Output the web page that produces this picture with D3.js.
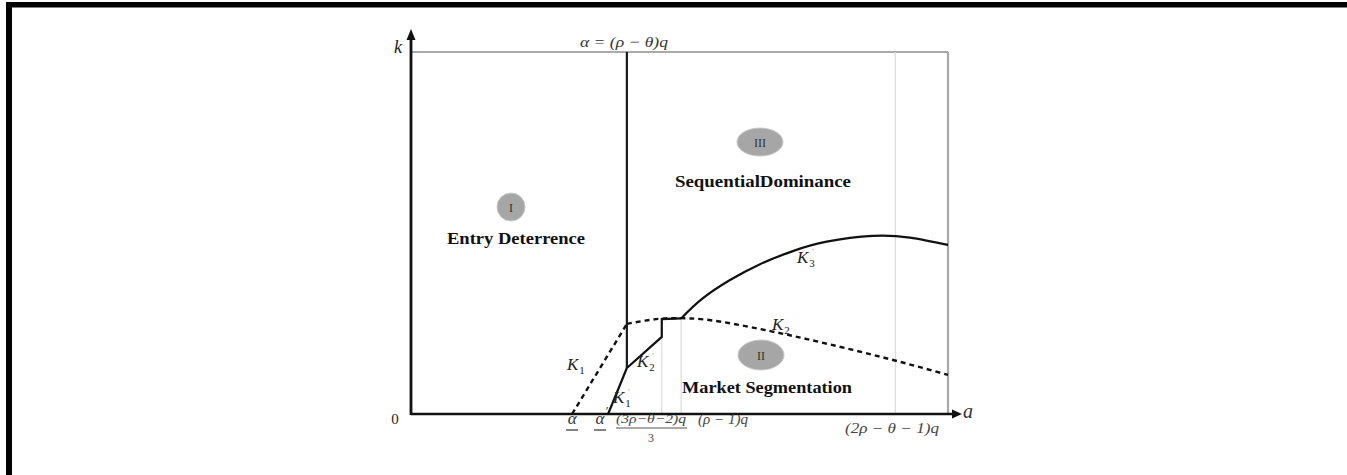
<!DOCTYPE html>
<html>
<head>
<meta charset="utf-8">
<script src="https://cdn.jsdelivr.net/npm/d3@7"></script>
<style>
  html, body { margin: 0; padding: 0; background: #fff; }
  svg { display: block; }
</style>
</head>
<body>
<svg id="chart" width="1347" height="475"></svg>
<script>
// ---- data (abstract units: a along the horizontal axis, k along the vertical) ----
const tickNames = ["alphaLow", "alphaPrime", "rhoTheta", "fracThird", "rhoMinusOne", "twoRho"];
const tickValues = [30, 36.7, 40.2, 46.7, 50.3, 90.2];

// dashed boundaries
const k1Dashed = [[30, 0], [40.2, 24.9]];
const k2Dashed = [[40.2, 24.9], [43.6, 25.8], [47.3, 26.4], [52.0, 26.4], [58.1, 25.4],
                  [66.9, 22.9], [73.7, 20.7], [82.3, 17.7], [91.1, 14.4], [100, 10.8]];
// solid boundaries
const k1Prime = [[36.7, 0], [40.2, 12.7]];
const k2Prime = [[40.2, 12.7], [46.7, 21.3], [46.7, 26.2], [50.3, 26.4]];
const k3Prime = [[50.3, 26.4], [54.2, 31.8], [59.4, 37.0], [65.0, 41.4], [71.1, 45.0],
                 [77.4, 47.6], [86.0, 49.2], [92.9, 48.7], [100, 46.7]];

const regionNumerals = ["I", "II", "III"];
const regionNames = ["Entry Deterrence", "Market Segmentation", "SequentialDominance"];

// ---- scales ----
const svg = d3.select("#chart");
const x = d3.scaleLinear().domain([0, 100]).range([411, 948]);
const y = d3.scaleLinear().domain([0, 100]).range([414, 52]);
const line = d3.line().x(d => x(d[0])).y(d => y(d[1]));
const smooth = d3.line().x(d => x(d[0])).y(d => y(d[1])).curve(d3.curveNatural);

const tick = {};
tickNames.forEach((n, i) => tick[n] = tickValues[i]);

// ---- page frame ----
svg.append("rect").attr("x", 6).attr("y", 2).attr("width", 1341).attr("height", 5.5).attr("fill", "#000");
svg.append("rect").attr("x", 6).attr("y", 2).attr("width", 6).attr("height", 473).attr("fill", "#000");

// ---- guide lines ----
const g = svg.append("g");
// top and right limits
g.append("line").attr("x1", x(0)).attr("x2", x(100)).attr("y1", y(100)).attr("y2", y(100))
  .attr("stroke", "#8c8c8c").attr("stroke-width", 1.6);
g.append("line").attr("x1", x(100)).attr("x2", x(100)).attr("y1", y(100)).attr("y2", y(0))
  .attr("stroke", "#a8a8a8").attr("stroke-width", 2.2);
// faint verticals
[[tick.fracThird, 21.3], [tick.rhoMinusOne, 26.4], [tick.twoRho, 100]].forEach(([tx, top]) => {
  g.append("line").attr("x1", x(tx)).attr("x2", x(tx)).attr("y1", y(top)).attr("y2", y(0))
    .attr("stroke", "#dcdcdc").attr("stroke-width", 1.2);
});
// alpha = (rho - theta) q
g.append("line").attr("x1", x(tick.rhoTheta)).attr("x2", x(tick.rhoTheta))
  .attr("y1", y(100)).attr("y2", y(12.7)).attr("stroke", "#1a1a1a").attr("stroke-width", 2.2);

// ---- boundaries ----
g.append("path").datum(k1Dashed).attr("d", line).attr("fill", "none")
  .attr("stroke", "#111").attr("stroke-width", 2.4).attr("stroke-dasharray", "5,4");
g.append("path").datum(k2Dashed).attr("d", smooth).attr("fill", "none")
  .attr("stroke", "#111").attr("stroke-width", 2.4).attr("stroke-dasharray", "5,4");
g.append("path").datum(k1Prime).attr("d", line).attr("fill", "none")
  .attr("stroke", "#111").attr("stroke-width", 2.2);
g.append("path").datum(k2Prime).attr("d", line).attr("fill", "none")
  .attr("stroke", "#111").attr("stroke-width", 2.2);
g.append("path").datum(k3Prime).attr("d", smooth).attr("fill", "none")
  .attr("stroke", "#111").attr("stroke-width", 2.2);

// ---- axes with arrows ----
g.append("line").attr("x1", x(0)).attr("x2", 954).attr("y1", y(0)).attr("y2", y(0))
  .attr("stroke", "#111").attr("stroke-width", 2.5);
g.append("path").attr("d", `M962,${y(0)} L952,${y(0) - 4.5} L952,${y(0) + 4.5} Z`).attr("fill", "#111");
g.append("line").attr("x1", x(0)).attr("x2", x(0)).attr("y1", y(0) + 1).attr("y2", 38)
  .attr("stroke", "#111").attr("stroke-width", 2.8);
g.append("path").attr("d", `M${x(0)},29 L${x(0) - 4.5},40 L${x(0) + 4.5},40 Z`).attr("fill", "#111");

// ---- text ----
const serif = "'Liberation Serif', 'DejaVu Serif', serif";
function txt(px, py, s, opts = {}) {
  return svg.append("text").attr("x", px).attr("y", py).text(s)
    .attr("font-family", serif)
    .attr("font-size", opts.size || 15)
    .attr("font-style", opts.italic ? "italic" : "normal")
    .attr("font-weight", opts.bold ? "bold" : "normal")
    .attr("fill", opts.color || "#222")
    .attr("text-anchor", opts.anchor || "start");
}

txt(398, 53, "k", { italic: true, size: 18, anchor: "middle" });
txt(968, 418, "a", { italic: true, size: 20, anchor: "middle", color: "#333" });
txt(395, 424, "0", { size: 15, anchor: "middle" });

// top label of the vertical threshold
txt(580, 47, "α = (ρ − θ)q", { italic: true, size: 15, color: "#333" }).attr("textLength", 88).attr("lengthAdjust", "spacingAndGlyphs");

// underlined alpha, alpha'
txt(x(tick.alphaLow), 424, "α", { italic: true, size: 17, anchor: "middle", color: "#333" });
g.append("line").attr("x1", x(tick.alphaLow) - 6).attr("x2", x(tick.alphaLow) + 6)
  .attr("y1", 430).attr("y2", 430).attr("stroke", "#333").attr("stroke-width", 1.2);
txt(x(tick.alphaPrime) - 8, 424, "α", { italic: true, size: 17, anchor: "middle", color: "#333" });
txt(x(tick.alphaPrime) - 1, 415, "′", { size: 13, anchor: "middle", color: "#333" });
g.append("line").attr("x1", x(tick.alphaPrime) - 14).attr("x2", x(tick.alphaPrime) - 2)
  .attr("y1", 430).attr("y2", 430).attr("stroke", "#333").attr("stroke-width", 1.2);

// (3rho - theta - 2)q / 3
const fx = 651;
txt(fx, 423, "(3ρ−θ−2)q", { italic: true, size: 13, anchor: "middle", color: "#444" }).attr("textLength", 70).attr("lengthAdjust", "spacingAndGlyphs");
g.append("line").attr("x1", 616).attr("x2", 687).attr("y1", 428).attr("y2", 428)
  .attr("stroke", "#555").attr("stroke-width", 1);
txt(fx, 442, "3", { size: 12, anchor: "middle", color: "#444" });

txt(698, 424, "(ρ − 1)q", { italic: true, size: 14, color: "#444" }).attr("textLength", 50).attr("lengthAdjust", "spacingAndGlyphs");
txt(845, 433, "(2ρ − θ − 1)q", { italic: true, size: 14, color: "#444" }).attr("textLength", 94).attr("lengthAdjust", "spacingAndGlyphs");

// K labels
function kLabel(px, py, sub, prime) {
  const t = txt(px, py, "K", { italic: true, size: 17, color: "#222" });
  t.append("tspan").attr("dx", 1).attr("dy", 4).attr("font-size", 11).attr("font-style", "normal").text(sub);
  if (prime) {
    svg.append("text").attr("x", px + 15).attr("y", py - 8).text("′")
      .attr("font-family", serif).attr("font-size", 9).attr("fill", "#999");
  }
}
kLabel(567, 370, "1", false);
kLabel(613, 403, "1", true);
kLabel(637, 367, "2", true);
kLabel(772, 330, "2", false);
kLabel(797, 263, "3", true);

// region markers
const markers = [
  { cx: 511, cy: 207, rx: 14, ry: 14 },
  { cx: 761, cy: 355, rx: 23, ry: 15 },
  { cx: 760, cy: 142, rx: 23, ry: 14 }
];
const names = [
  { px: 516, py: 244, w: 138 },
  { px: 767, py: 393, w: 170 },
  { px: 763, py: 187, w: 176 }
];
regionNumerals.forEach((r, i) => {
  const m = markers[i];
  svg.append("ellipse").attr("cx", m.cx).attr("cy", m.cy).attr("rx", m.rx).attr("ry", m.ry)
    .attr("fill", "#a6a6a6").attr("stroke", "#c8c8c8").attr("stroke-width", 1);
  txt(m.cx, m.cy + 4.5, r, { size: 12, anchor: "middle", color: "#333" });
  const n = names[i];
  txt(n.px, n.py, regionNames[i], { size: 17, bold: true, anchor: "middle", color: "#111" })
    .attr("textLength", n.w).attr("lengthAdjust", "spacingAndGlyphs");
});
</script>
</body>
</html>
